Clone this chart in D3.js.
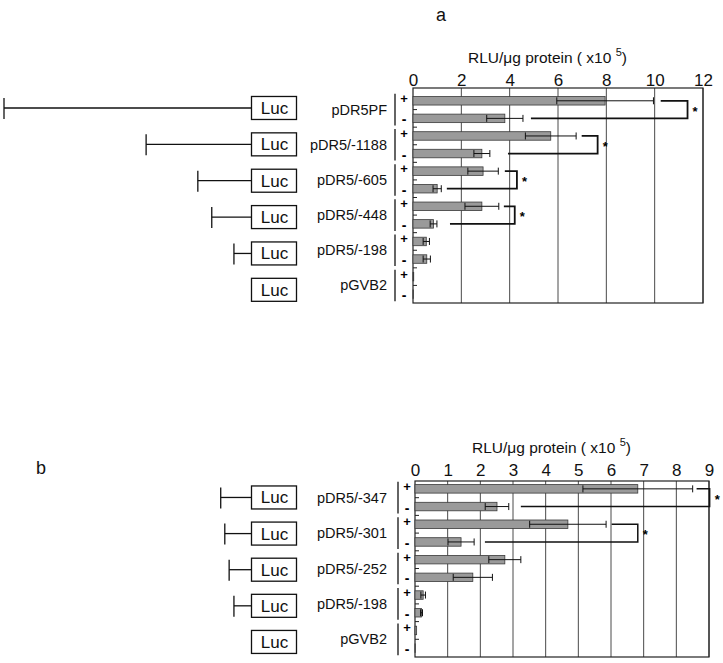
<!DOCTYPE html>
<html>
<head>
<meta charset="utf-8">
<script src="https://cdn.jsdelivr.net/npm/d3@7"></script>
<style>
  body { margin: 0; background: #fff; }
  svg { font-family: Arial, "Liberation Sans", sans-serif; }
</style>
</head>
<body>
<div id="chart"></div>
<script>
// DATA
// ======================================

// panel a
var constructsA = ["pDR5PF", "pDR5/-1188", "pDR5/-605", "pDR5/-448", "pDR5/-198", "pGVB2"];
var promoterA = [2790, 1188, 605, 448, 198, 0];   // bp upstream of Luc
var plusA = [7.95, 5.7, 2.9, 2.85, 0.55, 0.03];
var plusErrA = [2.0, 1.05, 0.63, 0.7, 0.13, 0];
var minusA = [3.8, 2.85, 1.0, 0.85, 0.57, 0.02];
var minusErrA = [0.75, 0.33, 0.17, 0.14, 0.15, 0];
var ticksA = [0, 2, 4, 6, 8, 10, 12];
// significance brackets: [construct, start of top arm, bracket end, start of bottom arm]
var sigA = [[0, 10.25, 11.36, 4.88], [1, 6.98, 7.64, 3.93], [2, 3.8, 4.3, 1.4], [3, 3.76, 4.21, 1.53]];

// panel b
var constructsB = ["pDR5/-347", "pDR5/-301", "pDR5/-252", "pDR5/-198", "pGVB2"];
var promoterB = [347, 301, 252, 198, 0];
var plusB = [6.82, 4.68, 2.75, 0.25, 0.05];
var plusErrB = [1.68, 1.17, 0.49, 0.07, 0];
var minusB = [2.51, 1.41, 1.77, 0.2, 0.01];
var minusErrB = [0.36, 0.4, 0.6, 0.03, 0];
var ticksB = [0, 1, 2, 3, 4, 5, 6, 7, 8, 9];
var sigB = [[0, 8.62, 9.02, 3.24], [1, 6.02, 6.82, 2.14]];

var treatments = ["+", "-"];

// SVG
// ======================================
var svg = d3.select("#chart")
  .append("svg")
  .attr("width", 723)
  .attr("height", 663);

// promoter length -> pixels, shared by both panels
var bpScale = d3.scaleLinear().domain([0, 2790]).range([251.5, 4]);

function drawPanel(p) {
  var g = svg.append("g");

  var rows = [];
  p.constructs.forEach(function(c, i) {
    rows.push({ key: c + "|+", construct: i, sign: "+", value: p.plus[i], err: p.plusErr[i] });
    rows.push({ key: c + "|-", construct: i, sign: "-", value: p.minus[i], err: p.minusErr[i] });
  });

  var x = d3.scaleLinear().domain([0, p.max]).range([p.x0, p.x1]);
  var y = d3.scaleBand().domain(rows.map(function(d) { return d.key; }))
    .range([p.rowTop, p.bottom]);
  var yC = d3.scaleBand().domain(p.constructs).range(p.lucRange);

  function rowY(i, s) { return y(p.constructs[i] + "|" + s) + y.bandwidth() / 2; }

  // gridlines
  g.append("g").selectAll("line")
    .data(p.ticks.filter(function(t) { return t > 0; }))
    .enter().append("line")
    .attr("x1", function(d) { return x(d); })
    .attr("x2", function(d) { return x(d); })
    .attr("y1", p.top).attr("y2", p.bottom)
    .attr("stroke", "#4a4a4a").attr("stroke-width", 1);

  // frame
  g.append("rect")
    .attr("x", p.x0).attr("y", p.top)
    .attr("width", p.x1 - p.x0).attr("height", p.bottom - p.top)
    .attr("fill", "none").attr("stroke", "#222").attr("stroke-width", 1.2);

  // top axis labels
  var topAxis = d3.axisTop(x).tickValues(p.ticks).tickSize(0).tickPadding(0)
    .tickFormat(d3.format("d"));
  var ax = g.append("g")
    .attr("transform", "translate(0," + p.tickBase + ")")
    .call(topAxis);
  ax.select(".domain").remove();
  ax.selectAll("text").attr("font-size", 17).attr("fill", "#111")
    .attr("font-family", "Arial, 'Liberation Sans', sans-serif");

  // title
  var title = g.append("text")
    .attr("x", p.titleX).attr("y", p.titleY)
    .attr("font-size", 15.5).attr("fill", "#111");
  title.append("tspan").text("RLU/\u03bcg protein ( x10 ");
  title.append("tspan").attr("dy", -7).attr("font-size", 11).text("5");
  title.append("tspan").attr("dy", 7).text(")");

  // small inside ticks at row boundaries
  g.append("g").selectAll("line")
    .data(rows.slice(1))
    .enter().append("line")
    .attr("x1", p.x0).attr("x2", p.x0 + 4)
    .attr("y1", function(d) { return y(d.key); })
    .attr("y2", function(d) { return y(d.key); })
    .attr("stroke", "#222");

  // bars
  var bh = 8.5;
  g.append("g").selectAll("rect")
    .data(rows)
    .enter().append("rect")
    .attr("x", x(0))
    .attr("y", function(d) { return y(d.key) + y.bandwidth() / 2 - bh / 2; })
    .attr("width", function(d) { return x(d.value) - x(0); })
    .attr("height", bh)
    .attr("fill", "#9a9a9a")
    .attr("stroke", "#3a3a3a")
    .attr("stroke-width", 0.8);

  // error bars
  var eb = g.append("g").selectAll("g")
    .data(rows.filter(function(d) { return d.err > 0; }))
    .enter().append("g")
    .attr("stroke", "#111").attr("stroke-width", 1);
  eb.append("line")
    .attr("x1", function(d) { return x(d.value - d.err); })
    .attr("x2", function(d) { return x(d.value + d.err); })
    .attr("y1", function(d) { return y(d.key) + y.bandwidth() / 2; })
    .attr("y2", function(d) { return y(d.key) + y.bandwidth() / 2; });
  [-1, 1].forEach(function(s) {
    eb.append("line")
      .attr("x1", function(d) { return x(d.value + s * d.err); })
      .attr("x2", function(d) { return x(d.value + s * d.err); })
      .attr("y1", function(d) { return y(d.key) + y.bandwidth() / 2 - 3.5; })
      .attr("y2", function(d) { return y(d.key) + y.bandwidth() / 2 + 3.5; });
  });

  // significance brackets
  var br = g.append("g").selectAll("g").data(p.sig).enter().append("g");
  br.append("path")
    .attr("d", function(d) {
      var yt = rowY(d[0], "+"), yb = rowY(d[0], "-");
      return "M" + x(d[1]) + "," + yt + "H" + x(d[2]) + "V" + yb + "H" + x(d[3]);
    })
    .attr("fill", "none").attr("stroke", "#111").attr("stroke-width", p.brW);
  br.append("text")
    .attr("x", function(d) { return x(d[2]) + 5; })
    .attr("y", function(d) { return (rowY(d[0], "+") + rowY(d[0], "-")) / 2 + 6; })
    .attr("font-size", 13).attr("font-weight", "bold")
    .text("*");

  // +/- labels with pair bars
  var pairs = g.append("g").selectAll("g").data(p.constructs).enter().append("g");
  pairs.append("line")
    .attr("x1", p.pipeX).attr("x2", p.pipeX)
    .attr("y1", function(d, i) { return rowY(i, "+") - 7; })
    .attr("y2", function(d, i) { return rowY(i, "-") + 7; })
    .attr("stroke", "#111").attr("stroke-width", 1.3);
  treatments.forEach(function(s) {
    pairs.append("text")
      .attr("x", p.pipeX + 9)
      .attr("y", function(d, i) { return rowY(i, s) + (s === "+" ? 2 : 6); })
      .attr("text-anchor", "middle")
      .attr("font-size", s === "+" ? 13 : 14)
      .attr("font-weight", "bold")
      .text(s);
  });
  pairs.append("text")
    .attr("x", p.labelX)
    .attr("y", function(d, i) { return (rowY(i, "+") + rowY(i, "-")) / 2 + 5; })
    .attr("text-anchor", "end")
    .attr("font-size", 14.5)
    .attr("fill", "#111")
    .text(function(d) { return d; });

  // Luc constructs
  var con = g.append("g").selectAll("g").data(p.constructs).enter().append("g")
    .attr("transform", function(d) { return "translate(0," + (yC(d) + yC.bandwidth() / 2) + ")"; });
  con.append("rect")
    .attr("x", 251.5).attr("y", -11.5).attr("width", 45).attr("height", 23)
    .attr("fill", "#fff").attr("stroke", "#111").attr("stroke-width", 1.3);
  con.append("text")
    .attr("x", 274.5).attr("y", 6)
    .attr("text-anchor", "middle").attr("font-size", 17).attr("fill", "#111")
    .text("Luc");
  var prom = con.filter(function(d, i) { return p.promoter[i] > 0; });
  prom.append("line")
    .attr("x1", function(d) { return bpScale(p.promoter[p.constructs.indexOf(d)]); })
    .attr("x2", 251.5).attr("y1", 0).attr("y2", 0)
    .attr("stroke", "#111").attr("stroke-width", 1.3);
  prom.append("line")
    .attr("x1", function(d) { return bpScale(p.promoter[p.constructs.indexOf(d)]); })
    .attr("x2", function(d) { return bpScale(p.promoter[p.constructs.indexOf(d)]); })
    .attr("y1", -10).attr("y2", 11)
    .attr("stroke", "#111").attr("stroke-width", 1.3);

  // panel letter
  g.append("text").attr("x", p.letterX).attr("y", p.letterY)
    .attr("font-size", 18).attr("fill", "#111").text(p.letter);
}

drawPanel({
  letter: "a", letterX: 436, letterY: 21,
  constructs: constructsA, promoter: promoterA,
  plus: plusA, plusErr: plusErrA, minus: minusA, minusErr: minusErrA,
  ticks: ticksA, max: 12, sig: sigA, brW: 1.8,
  x0: 413, x1: 703, top: 88, rowTop: 92, bottom: 303,
  tickBase: 86, titleX: 468, titleY: 63,
  lucRange: [89.8, 308], pipeX: 395, labelX: 387
});

drawPanel({
  letter: "b", letterX: 36, letterY: 474,
  constructs: constructsB, promoter: promoterB,
  plus: plusB, plusErr: plusErrB, minus: minusB, minusErr: minusErrB,
  ticks: ticksB, max: 9, sig: sigB, brW: 1.5,
  x0: 415, x1: 709, top: 481, rowTop: 480, bottom: 657,
  tickBase: 476, titleX: 472, titleY: 453,
  lucRange: [479.4, 660], pipeX: 398, labelX: 387
});
</script>
</body>
</html>
